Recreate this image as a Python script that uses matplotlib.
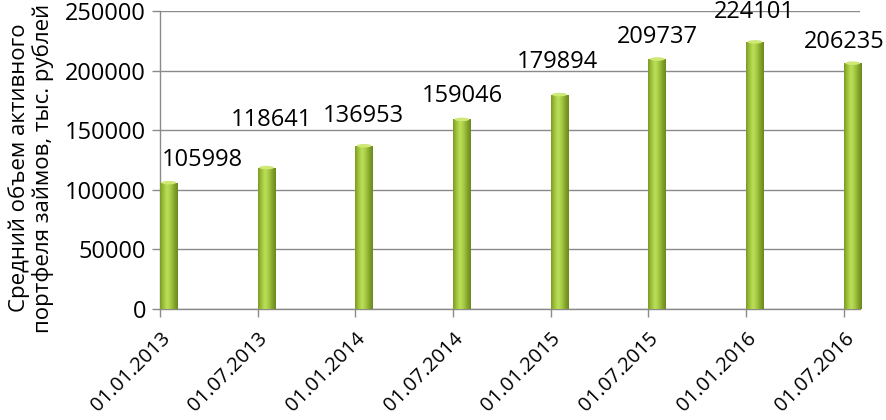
import numpy as np
import matplotlib
matplotlib.use("Agg")
import matplotlib.pyplot as plt
from matplotlib.colors import LinearSegmentedColormap
from matplotlib.patches import Ellipse

categories = ["01.01.2013", "01.07.2013", "01.01.2014", "01.07.2014",
              "01.01.2015", "01.07.2015", "01.01.2016", "01.07.2016"]
values = [105998, 118641, 136953, 159046, 179894, 209737, 224101, 206235]
yticks = [0, 50000, 100000, 150000, 200000, 250000]

# label offsets (pixels) relative to bar top centre
label_dx = [34, 5, -1, 0, -2, 0, -1, -8]
label_dy = [23, 48, 30, 23, 33, 22, 30, 21]

plt.rcParams['font.family'] = ['Open Sans', 'DejaVu Sans']
FS = 17
FSX = 14.5

fig = plt.figure(figsize=(8.87, 4.20), dpi=100)
ax = fig.add_axes([160/887, 1-309/420, 700/887, 298/420])

bar_w = 0.18
x = np.arange(len(values))
cmap = LinearSegmentedColormap.from_list(
    "cyl", ["#7a9a24", "#a0c53c", "#bde05c", "#a6ca42", "#84a62b", "#6a881e"])
grad = np.linspace(0, 1, 64).reshape(1, -1)

bars = ax.bar(x, values, width=bar_w, align='edge', color='none',
              edgecolor='none', zorder=3)
for b, v in zip(bars, values):
    x0 = b.get_x()
    im = ax.imshow(grad, cmap=cmap, aspect='auto',
                   extent=[x0, x0 + bar_w, 0, v], zorder=3,
                   interpolation='bicubic')
    im.set_clip_path(b)
    cap = Ellipse((x0 + bar_w/2, v), bar_w*0.85, 3000, facecolor="#cfe878",
                  edgecolor='none', zorder=4)
    ax.add_patch(cap)

for xi, v, dx, dy in zip(x, values, label_dx, label_dy):
    ax.annotate(f"{v}", (xi + bar_w/2, v), xytext=(dx, dy),
                textcoords='offset pixels', ha='center', va='center',
                fontsize=FS, color='black', zorder=5, annotation_clip=False)

ax.set_xlim(0, 7.165)
ax.set_ylim(0, 250000)
ax.set_yticks(yticks)
ax.set_yticklabels([str(t) for t in yticks], fontsize=FS)
ax.set_xticks(x)
ax.set_xticklabels(categories, rotation=45, ha='right', va='top',
                   rotation_mode='anchor', fontsize=FSX)
ax.yaxis.grid(True, color='#8a8a8a', linewidth=1.0, zorder=0)
ax.set_axisbelow(True)
for s in ['top', 'right']:
    ax.spines[s].set_visible(False)
for s in ['left', 'bottom']:
    ax.spines[s].set_color('#8a8a8a')
    ax.spines[s].set_linewidth(1.0)
ax.tick_params(axis='both', colors='#8a8a8a', labelcolor='black',
               length=6, width=1.0)
ax.tick_params(axis='y', pad=4)
ax.tick_params(axis='x', pad=8)

fig.text(31/887, 1-168/420,
         "Средний объем активного\nпортфеля займов, тыс. рублей",
         rotation=90, ha='center', va='center', fontsize=16,
         linespacing=1.1)

fig.savefig("out.png", dpi=100)
